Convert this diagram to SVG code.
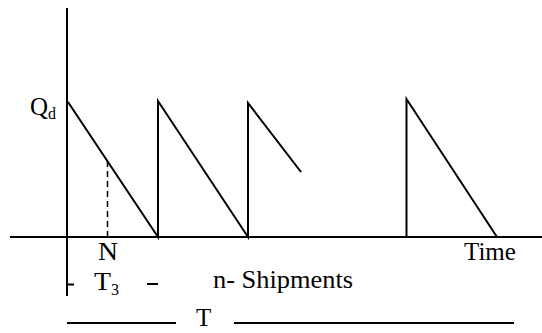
<svg xmlns="http://www.w3.org/2000/svg" width="542" height="333" viewBox="0 0 542 333">
<defs>
<marker id="none" markerWidth="1" markerHeight="1"/>
</defs>
<rect width="542" height="333" fill="#fff"/>
<g id="axes" stroke="#000" stroke-width="2" fill="none">
<line x1="67" y1="8" x2="67" y2="296"/>
<line x1="10" y1="237" x2="542" y2="237"/>
</g>
<g id="sawtooth" stroke="#000" stroke-width="2" fill="none">
<polyline points="68,102 158,237 158,101 248,237 248,103 301,172"/>
<polyline points="406.5,237 406.5,99 497,237"/>
<line x1="107.5" y1="161" x2="107.5" y2="237" stroke-width="1.5" stroke-dasharray="6 4"/>
</g>
<g id="labels" font-family="Liberation Serif" font-size="25" fill="#000">
<text x="30" y="115">Q<tspan font-size="16" dy="4">d</tspan></text>
<text x="98" y="260" textLength="20" lengthAdjust="spacingAndGlyphs">N</text>
<text x="464" y="260">Time</text>
<text x="94" y="290" textLength="17" lengthAdjust="spacingAndGlyphs">T</text>
<text x="111" y="295" font-size="16">3</text>
<text x="213" y="288" textLength="140" lengthAdjust="spacingAndGlyphs">n- Shipments</text>
<text x="196" y="326">T</text>
</g>
<g id="ticks" stroke="#000" stroke-width="2">
<line x1="67" y1="284.5" x2="74" y2="284.5"/>
<line x1="147" y1="284" x2="158" y2="284"/>
<line x1="67" y1="323" x2="176" y2="323"/>
<line x1="234" y1="323" x2="514" y2="323"/>
</g>
</svg>
